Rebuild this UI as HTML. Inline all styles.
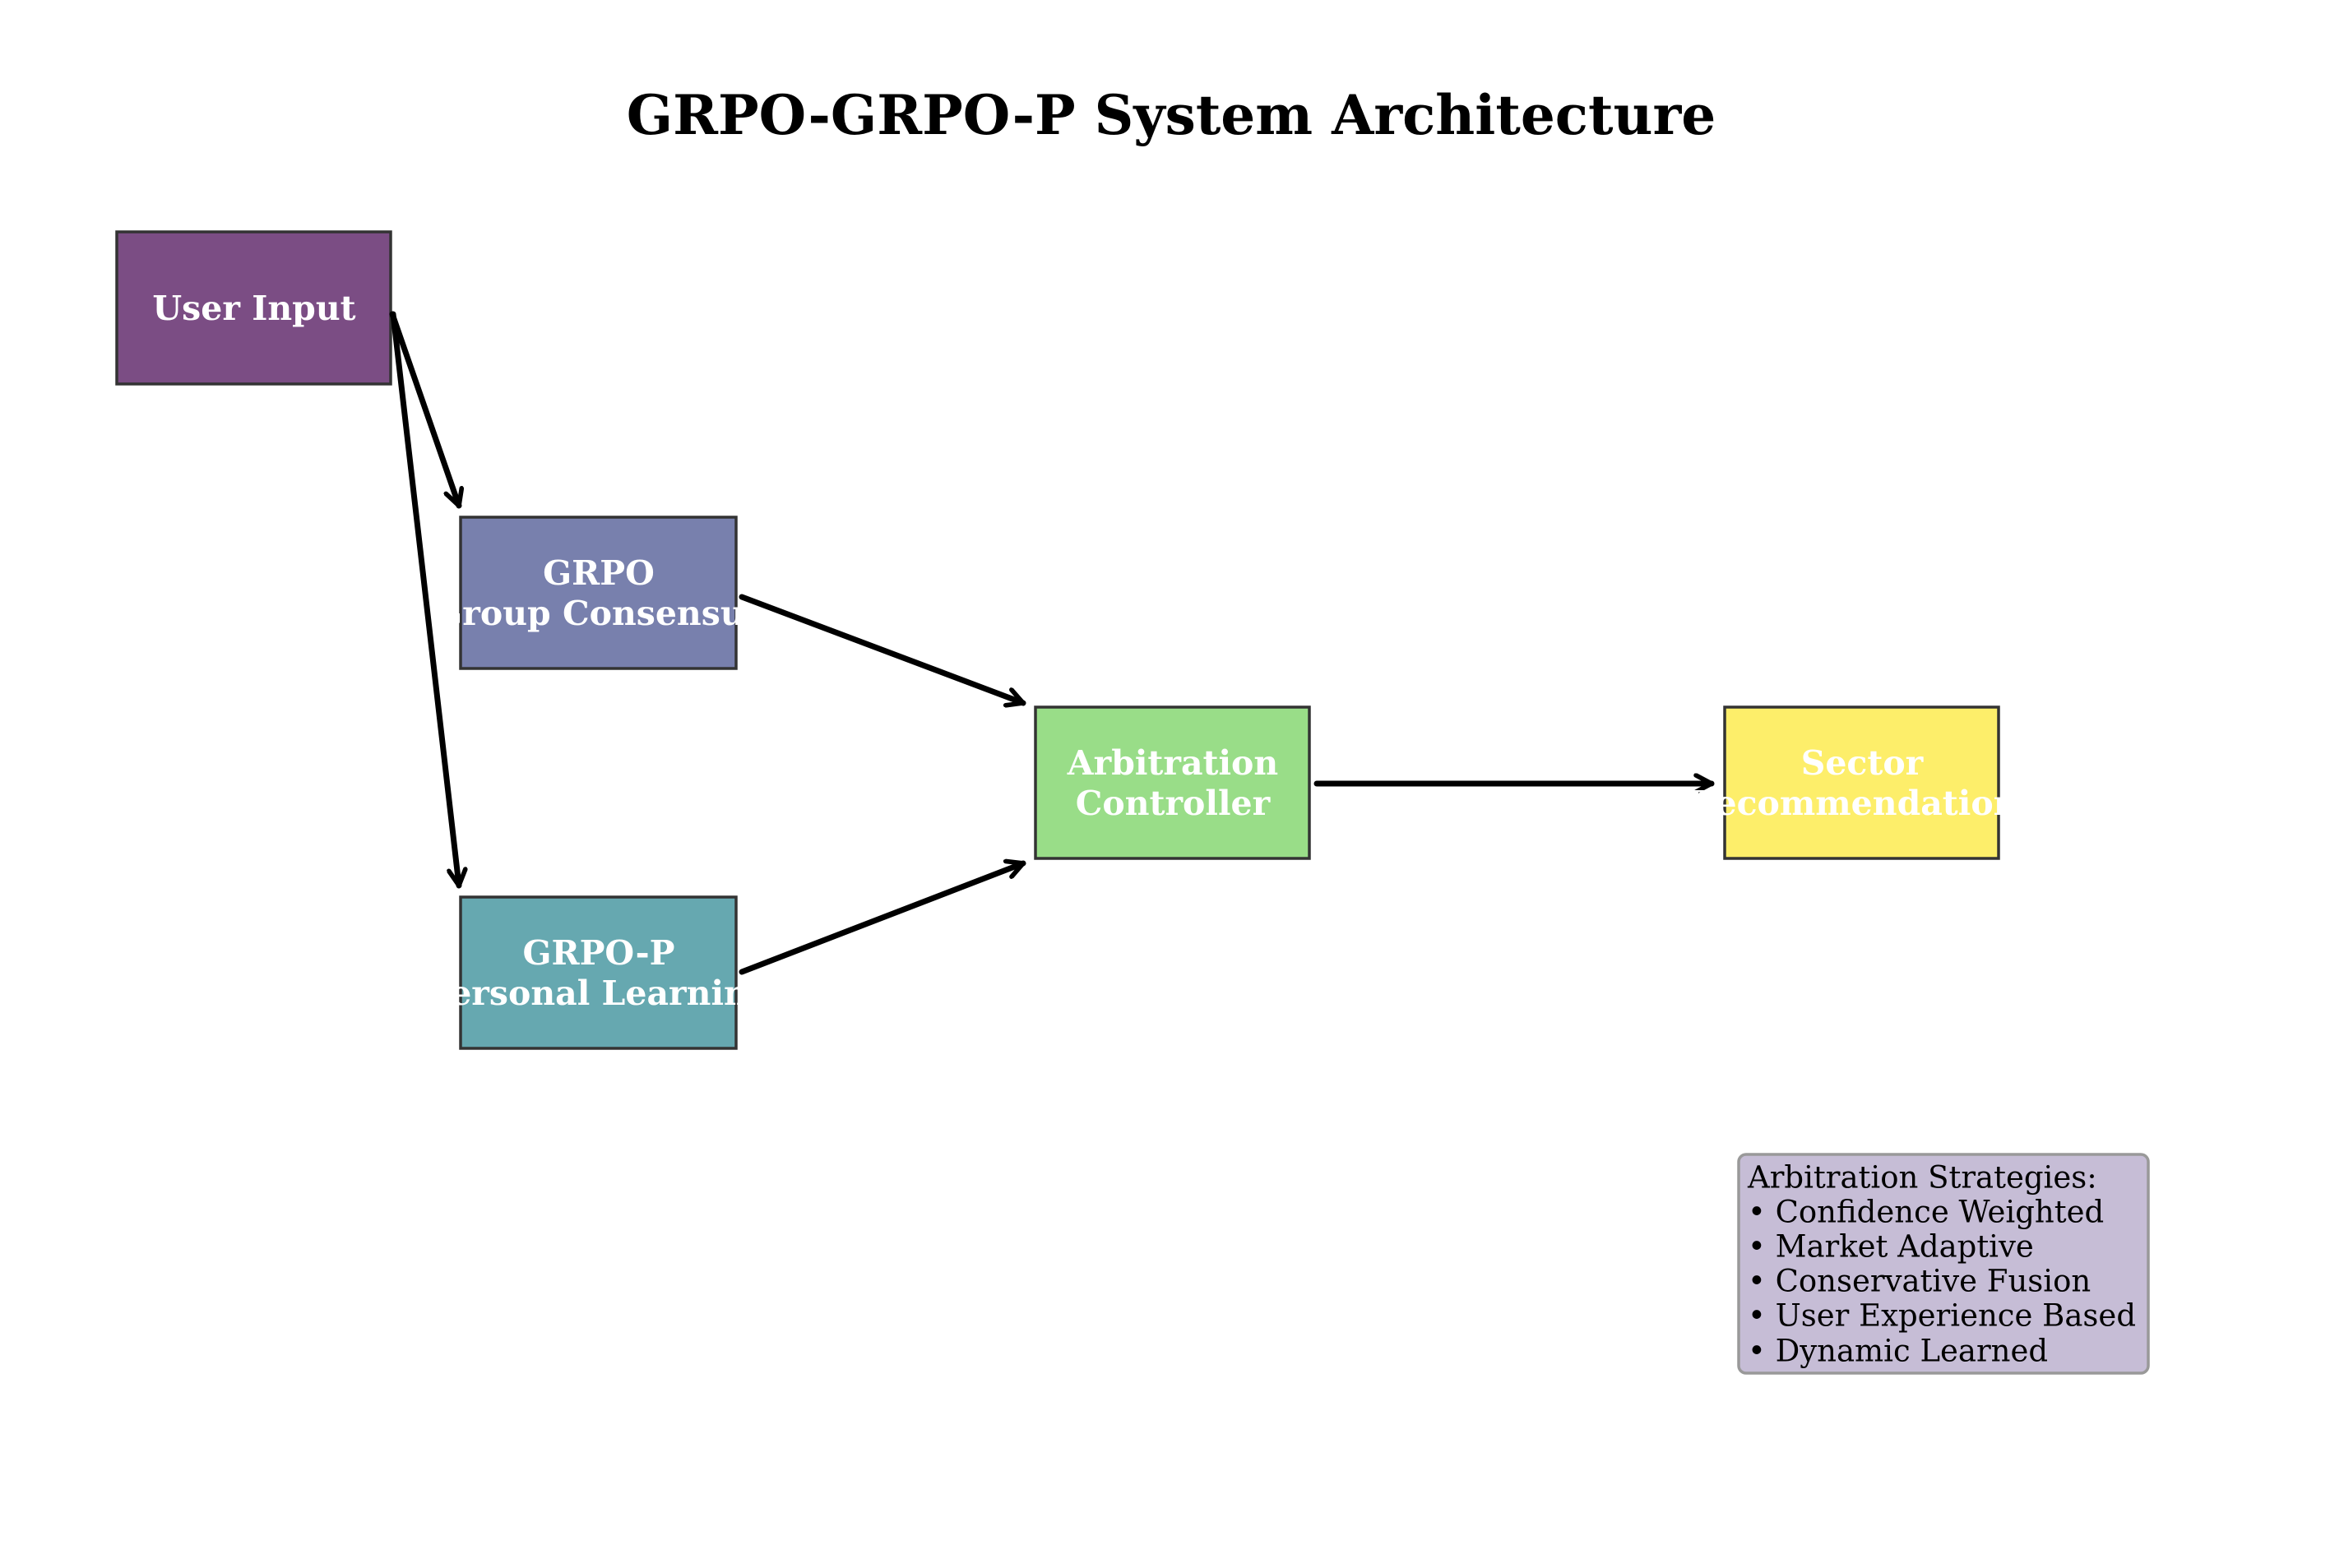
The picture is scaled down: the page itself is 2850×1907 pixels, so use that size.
<!DOCTYPE html>
<html><head><meta charset="utf-8"><style>html,body{margin:0;padding:0;background:#fff}svg{display:block}</style></head>
<body>
<svg width="2850" height="1907" viewBox="0 0 2850 1907" xmlns="http://www.w3.org/2000/svg">
<defs>
<marker id="a" viewBox="0 0 20 20" refX="18" refY="10" markerWidth="3.6" markerHeight="3.6" markerUnits="strokeWidth" orient="auto">
<path d="M3,2 L18,10 L3,18" fill="none" stroke="#000" stroke-width="4.5" stroke-linecap="round" stroke-linejoin="round"/>
</marker>
</defs>
<text x="1424" y="140" font-family="DejaVu Serif, Liberation Serif, serif" font-weight="bold" font-size="66" text-anchor="middle" dominant-baseline="central">GRPO-GRPO-P System Architecture</text>
<g stroke="#333" stroke-width="3.5">
<rect x="142" y="282" width="333" height="185" fill="#7b4d84"/>
<rect x="560" y="629" width="335" height="184" fill="#7880ad"/>
<rect x="560" y="1091" width="335" height="184" fill="#66a8b0"/>
<rect x="1259" y="860" width="333" height="184" fill="#99dd88"/>
<rect x="2097" y="860" width="333" height="184" fill="#fdee6a"/>
</g>
<rect x="2114" y="1404" width="498" height="266" rx="9" fill="#c6bdd6" stroke="#999" stroke-width="3.5"/>
<g stroke="#000" stroke-width="7" fill="none" stroke-linecap="round" marker-end="url(#a)">
<line x1="477" y1="382" x2="558" y2="615"/>
<line x1="478" y1="382" x2="558" y2="1077"/>
<line x1="902" y1="726" x2="1244" y2="855"/>
<line x1="902" y1="1182" x2="1244" y2="1050"/>
<line x1="1601" y1="953" x2="2081" y2="953"/>
</g>
<g font-family="DejaVu Serif, Liberation Serif, serif" font-weight="bold" font-size="41" fill="#fff" text-anchor="middle" dominant-baseline="central">
<text x="309" y="375">User Input</text>
<text x="728" y="697">GRPO</text>
<text x="728" y="746">Group Consensus</text>
<text x="728" y="1159">GRPO-P</text>
<text x="728" y="1208">Personal Learning</text>
<text x="1426" y="928">Arbitration</text>
<text x="1426" y="977">Controller</text>
<text x="2264" y="928">Sector</text>
<text x="2264" y="977">Recommendations</text>
</g>
<g font-family="DejaVu Serif, Liberation Serif, serif" font-size="37" fill="#000" dominant-baseline="central">
<text x="2125" y="1432">Arbitration Strategies:</text>
<text x="2125" y="1474">• Confidence Weighted</text>
<text x="2125" y="1516">• Market Adaptive</text>
<text x="2125" y="1558">• Conservative Fusion</text>
<text x="2125" y="1600">• User Experience Based</text>
<text x="2125" y="1643">• Dynamic Learned</text>
</g>
</svg>
</body></html>
